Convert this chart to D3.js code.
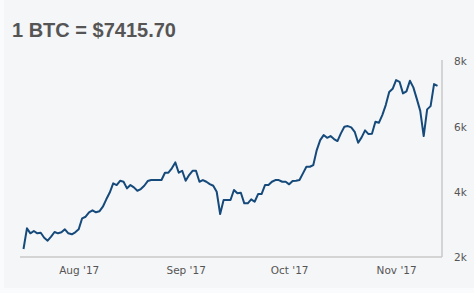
<!DOCTYPE html>
<html>
<head>
<meta charset="utf-8">
<script src="https://cdn.jsdelivr.net/npm/d3@7"></script>
<style>
  html, body { margin: 0; padding: 0; background: #fafbfc; }
  svg { display: block; }
</style>
</head>
<body>
<svg id="chart" width="474" height="293"></svg>
<script>
const startDate = "2017-07-16";
const endDate = "2017-11-13";
// daily closing prices (USD), Jul 16 – Nov 13 2017
const julValues = [2245,2880,2727,2797,2727,2745,2592,2500,2623,2767,2727,2758,2850,2727,2696,2758];
const augValues = [2850,3187,3236,3371,3432,3371,3402,3543,3770,3978,4260,4208,4340,4309,4107,4208,4138,4033,4086,4187,4331,4362,4362,4362,4362,4586,4586,4720,4904,4586,4647];
const sepValues = [4340,4515,4647,4647,4309,4362,4309,4239,4187,4003,3319,3748,3748,3748,4055,3954,3972,3647,3647,3770,3696,3932,3932,4208,4208,4309,4362,4362,4309,4309];
const octValues = [4230,4331,4340,4362,4567,4770,4770,4822,5282,5588,5742,5659,5711,5619,5558,5794,5996,6018,5978,5843,5506,5671,5886,5772,5782,6150,6119,6355,6662,7061,7162];
const novValues = [7428,7376,7021,7085,7407,7205,6852,6484,5711,6530,6631,7306,7251];
const xTickDates = ["2017-08-01","2017-09-01","2017-10-01","2017-11-01"];
const yTicks = [2000,4000,6000,8000];
const title = "1 BTC = $7415.70";

const parse = d3.timeParse("%Y-%m-%d");
const values = [].concat(julValues, augValues, sepValues, octValues, novValues);
const dates = d3.timeDay.range(parse(startDate), d3.timeDay.offset(parse(endDate), 1));
const data = dates.map((d, i) => ({date: d, value: values[i]}));

const svg = d3.select("#chart");

// card background
svg.append("rect")
  .attr("x", 4).attr("y", 0).attr("width", 470).attr("height", 288)
  .attr("fill", "#f5f6f8");

svg.append("text")
  .attr("x", 12).attr("y", 37)
  .attr("font-family", "Liberation Sans, Arial, sans-serif")
  .attr("font-weight", "bold")
  .attr("font-size", 20)
  .attr("fill", "#555")
  .text(title);

const plotLeft = 20, plotRight = 442, plotBottom = 257;
const x = d3.scaleTime()
  .domain([parse(startDate), parse(endDate)])
  .range([23.5, 437.5]);
const y = d3.scaleLinear().domain([2000, 8000]).range([257, 61.5]);

// axis lines
svg.append("line")
  .attr("x1", plotLeft).attr("x2", plotRight)
  .attr("y1", plotBottom).attr("y2", plotBottom)
  .attr("stroke", "#c8c8c8").attr("stroke-width", 1.5);
svg.append("line")
  .attr("x1", plotRight).attr("x2", plotRight)
  .attr("y1", 60).attr("y2", plotBottom)
  .attr("stroke", "#c8c8c8").attr("stroke-width", 1.5);

// x axis labels
const fmt = d3.timeFormat("%b '%y");
const xAxis = d3.axisBottom(x)
  .tickValues(xTickDates.map(parse))
  .tickFormat(fmt)
  .tickSize(0).tickPadding(10);
const gx = svg.append("g").attr("transform", `translate(0,${plotBottom})`).call(xAxis);
gx.select(".domain").remove();
gx.selectAll("text")
  .attr("font-family", "DejaVu Sans, sans-serif")
  .attr("font-size", 10.5)
  .attr("fill", "#555");

// y axis labels (right)
const yAxis = d3.axisRight(y)
  .tickValues(yTicks)
  .tickFormat(d => (d / 1000) + "k")
  .tickSize(0).tickPadding(12);
const gy = svg.append("g").attr("transform", `translate(${plotRight},0)`).call(yAxis);
gy.select(".domain").remove();
gy.selectAll("text")
  .attr("font-family", "DejaVu Sans, sans-serif")
  .attr("font-size", 10.5)
  .attr("fill", "#555");

// price line
const line = d3.line()
  .x(d => x(d.date))
  .y(d => y(d.value));
svg.append("path")
  .datum(data)
  .attr("fill", "none")
  .attr("stroke", "#154a7b")
  .attr("stroke-width", 2)
  .attr("stroke-linejoin", "round")
  .attr("d", line);
</script>
</body>
</html>
